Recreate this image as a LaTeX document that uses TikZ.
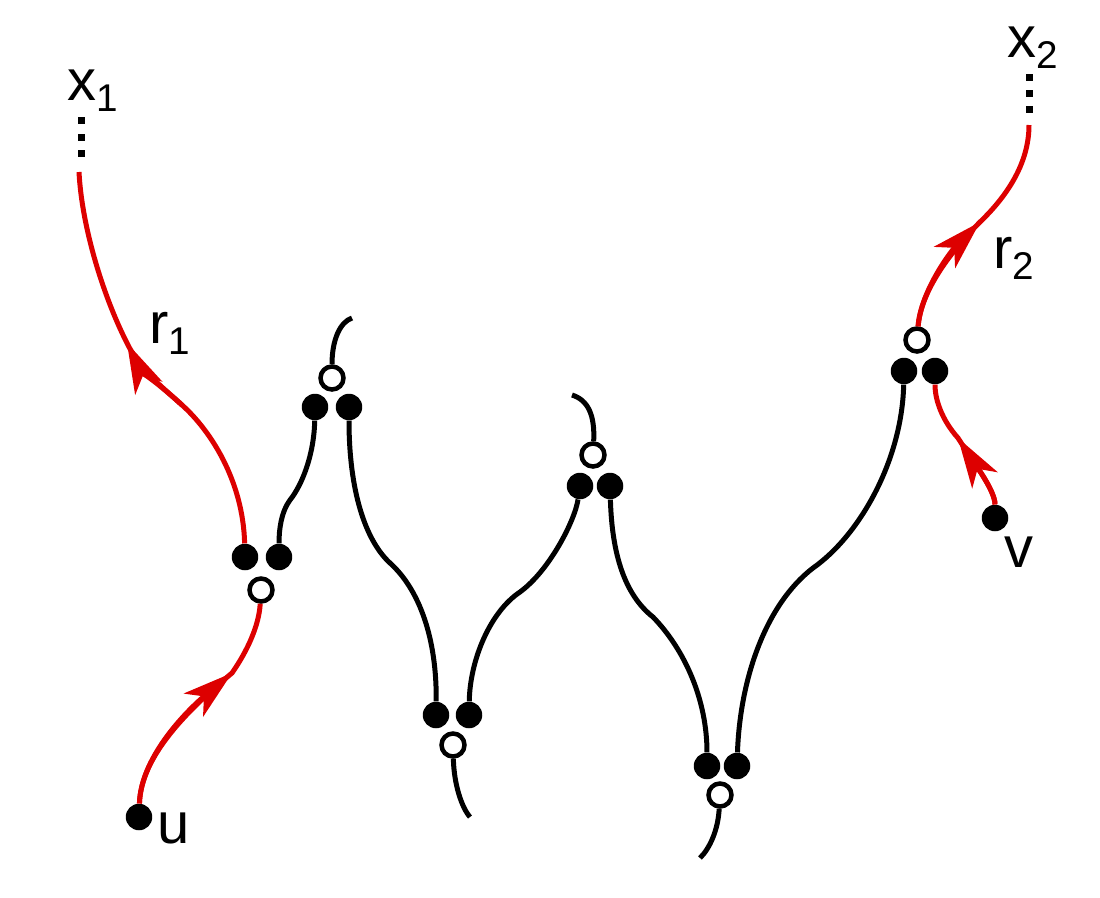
\documentclass[tikz,border=0pt]{standalone}
\usepackage{fontspec}
\setmainfont{Liberation Sans}
\usetikzlibrary{arrows.meta}
\definecolor{rred}{RGB}{221,0,0}
\newcommand\lsub[1]{\raisebox{-6.8pt}{\fontsize{22}{24}\selectfont #1}}
\begin{document}
\begin{tikzpicture}[x=0.02cm,y=-0.02cm,
 fdot/.style={circle, fill=black, inner sep=0pt, minimum size=0.53cm},
 odot/.style={circle, draw=black, fill=white, line width=0.09cm, inner sep=0pt, minimum size=0.46cm},
 wire/.style={line width=0.1cm, black},
 rwire/.style={line width=0.1cm, rred},
 arr/.style={-{Stealth[length=1.0cm,width=0.6cm,inset=0.27cm]}},
 lab/.style={anchor=base west, inner sep=0pt, font=\fontsize{33}{36}\selectfont}]
\useasboundingbox (0,0) rectangle (1100,897);
% dots
\node[fdot] (AL) at (245,557) {};
\node[fdot] (AR) at (279,557) {};
\node[odot] (AO) at (261,590) {};
\node[odot] (BO) at (332,378) {};
\node[fdot] (BL) at (315,407) {};
\node[fdot] (BR) at (349,407) {};
\node[fdot] (CL) at (436,715) {};
\node[fdot] (CR) at (469,715) {};
\node[odot] (CO) at (453,745) {};
\node[odot] (DO) at (593,455) {};
\node[fdot] (DL) at (580,486) {};
\node[fdot] (DR) at (610,486) {};
\node[fdot] (EL) at (707,766) {};
\node[fdot] (ER) at (737,766) {};
\node[odot] (EO) at (720,795) {};
\node[odot] (FO) at (917,340) {};
\node[fdot] (FL) at (904,371) {};
\node[fdot] (FR) at (935,371) {};
\node[fdot] (U) at (139,817) {};
\node[fdot] (V) at (995,518) {};
% helper points
\coordinate (k1) at (182,405);
\coordinate (t1) at (127,343);
\coordinate (x1e) at (79,172);
\coordinate (t2) at (232,673);
\coordinate (kAB) at (290,500);
\coordinate (bt) at (352,318);
\coordinate (kBC) at (390,563);
\coordinate (ct) at (470,817);
\coordinate (kCD) at (520,592);
\coordinate (dt) at (572,395);
\coordinate (kDE) at (653,617);
\coordinate (et) at (700,858);
\coordinate (kEF) at (813,568);
\coordinate (t3) at (980,222);
\coordinate (x2e) at (1029,125);
\coordinate (t4) at (958,438);
% red paths (continuous lines, then arrowheads on the first part)
\draw[rwire] (AL) .. controls (243,480) and (210,430) .. (k1)
  .. controls (160,385) and (140,370) .. (t1)
  .. controls (105,300) and (82,230) .. (x1e);
\draw[rwire,arr] (k1) .. controls (160,385) and (140,370) .. (t1);
\draw[rwire] (U) .. controls (141,755) and (190,708) .. (t2)
  .. controls (248,650) and (259,625) .. (AO);
\draw[rwire,arr] (U) .. controls (141,755) and (190,708) .. (t2);
\draw[rwire] (FO) .. controls (921,290) and (952,250) .. (t3)
  .. controls (1005,198) and (1029,165) .. (x2e);
\draw[rwire,arr] (FO) .. controls (921,290) and (952,250) .. (t3);
\draw[rwire] (V) .. controls (995,490) and (972,460) .. (t4)
  .. controls (942,420) and (935,400) .. (FR);
\draw[rwire,arr] (V) .. controls (995,490) and (972,460) .. (t4);
% black paths
\draw[wire] (AR) .. controls (279,530) and (281,512) .. (kAB) .. controls (302,485) and (314,455) .. (BL);
\draw[wire] (BO) .. controls (332,340) and (340,322) .. (bt);
\draw[wire] (BR) .. controls (349,490) and (365,540) .. (kBC) .. controls (420,590) and (437,640) .. (CL);
\draw[wire] (CO) .. controls (454,785) and (462,808) .. (ct);
\draw[wire] (CR) .. controls (470,660) and (490,612) .. (kCD) .. controls (550,570) and (575,520) .. (DL);
\draw[wire] (DO) .. controls (595,415) and (588,400) .. (dt);
\draw[wire] (DR) .. controls (612,555) and (625,595) .. (kDE) .. controls (685,650) and (707,700) .. (EL);
\draw[wire] (EO) .. controls (718,830) and (710,848) .. (et);
\draw[wire] (ER) .. controls (740,680) and (765,605) .. (kEF) .. controls (860,535) and (902,460) .. (FL);
% dotted continuation marks
\foreach \yy in {120,137,153} \fill (78,\yy-3.5) rectangle (85,\yy+3.5);
\foreach \yy in {77,93,109} \fill (1026,\yy-3.5) rectangle (1033,\yy+3.5);
% labels
\node[lab] (lx1) at (67,100) {x\lsub{1}};
\node[lab] (lx2) at (1007,57) {x\lsub{2}};
\node[lab] (lr1) at (149,343) {r\lsub{1}};
\node[lab] (lr2) at (993,268) {r\lsub{2}};
\node[lab] (lu) at (157,843) {u};
\node[lab] (lv) at (1004,567) {v};
\end{tikzpicture}
\end{document}
